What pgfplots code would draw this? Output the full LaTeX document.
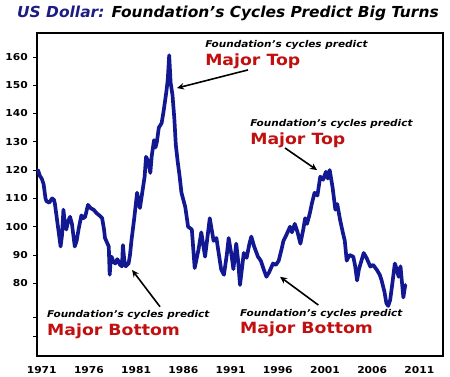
\documentclass[border=0pt]{standalone}
\usepackage{pgfplots}
\pgfplotsset{compat=1.18}
\usepackage{fontspec}
\setmainfont{DejaVu Sans}[FakeStretch=1.12]
\newfontfamily\titlefont{DejaVu Sans}[FakeStretch=1.02]
\usetikzlibrary{arrows.meta}
\definecolor{linecol}{RGB}{18,24,145}
\definecolor{titleblue}{RGB}{28,28,130}
\definecolor{majred}{RGB}{192,16,16}
\pgfplotstableread{
year value
1970.6 120
1970.8 118
1971.0 117
1971.2 115
1971.4 110
1971.5 109
1971.8 108.5
1972.1 110
1972.3 109.5
1972.4 108
1972.6 103
1972.8 98
1973.0 93
1973.15 97
1973.3 106
1973.45 101
1973.6 99
1973.8 102
1974.0 103.5
1974.2 101
1974.5 93
1974.7 95
1974.9 99
1975.2 104
1975.4 103
1975.6 103.5
1975.9 107.7
1976.2 106.5
1976.5 106
1976.8 104.8
1977.1 104
1977.4 103
1977.6 99
1977.7 96
1977.9 94.5
1978.1 93
1978.2 83
1978.3 88
1978.4 89.4
1978.6 87.5
1978.8 87
1979.0 88.5
1979.1 88
1979.3 86.5
1979.5 86
1979.6 93.5
1979.75 88
1979.9 86
1980.2 87
1980.35 90
1980.5 95
1980.8 103
1981.1 112
1981.25 109
1981.4 106.6
1981.6 111
1981.9 117.7
1982.05 124.7
1982.3 123
1982.5 119
1982.65 125
1982.9 130.6
1983.05 128
1983.2 130
1983.4 135
1983.7 136.6
1983.9 140.6
1984.2 147.7
1984.35 152
1984.5 160.6
1984.65 151
1984.85 146.5
1985.05 138
1985.2 129
1985.4 123
1985.6 118
1985.8 112
1986.2 107
1986.5 100
1986.9 99
1987.2 85.4
1987.6 91.8
1987.9 98
1988.3 89.4
1988.8 103
1989.2 95
1989.5 96
1989.8 89.4
1990.0 85
1990.3 83
1990.6 90
1990.8 96
1991.1 90
1991.3 85
1991.6 94
1991.8 88
1992.0 79.4
1992.2 85
1992.4 90.7
1992.7 89
1993.0 94
1993.2 96.5
1993.5 93
1993.9 89.4
1994.2 88
1994.5 85
1994.8 82.3
1995.1 84
1995.5 87
1995.8 86.5
1996.1 88
1996.4 92
1996.6 95
1996.9 97
1997.3 100
1997.5 98
1997.8 101
1998.1 98
1998.4 94
1998.7 99
1998.9 103
1999.1 101
1999.4 104.8
1999.6 108
1999.9 112
2000.2 111
2000.5 117.7
2000.8 116.6
2001.1 119.4
2001.3 117
2001.5 120
2001.8 114
2002.1 106
2002.3 108
2002.6 102.4
2002.9 97.8
2003.1 95
2003.3 88
2003.6 90
2004.0 89.4
2004.2 86
2004.4 81
2004.6 85
2005.1 90.7
2005.4 89
2005.8 85.9
2006.1 86.5
2006.5 84.7
2006.8 83
2007.0 81
2007.3 77
2007.5 73
2007.7 72
2007.9 74
2008.1 79
2008.4 87
2008.6 85
2008.8 82.3
2009.0 86
2009.3 75
2009.5 79.4
}\dollar
\begin{document}
\begin{tikzpicture}
\useasboundingbox (0,0) rectangle (450bp,377bp);
\node[anchor=base west, inner sep=0pt, font=\titlefont\fontsize{15.2}{18}\selectfont\bfseries\itshape]
  at (17bp,359bp) {{\color{titleblue}US Dollar:} Foundation’s Cycles Predict Big Turns};
\begin{axis}[
  at={(37bp,21bp)}, anchor=south west,
  width=406bp, height=323bp, scale only axis,
  xmin=1970.5, xmax=2013.5, ymin=54.3, ymax=168.45,
  xtick={1971,1976,1981,1986,1991,1996,2001,2006,2011},
  xticklabels={1971,1976,1981,1986,1991,1996,2001,2006,2011},
  ytick={61.4,68.1,80,90,100,110,120,130,140,150,160},
  yticklabels={,,80,90,100,110,120,130,140,150,160},
  axis line style={line width=1.6pt},
  tick align=outside,
  ytick pos=left, xtick pos=bottom,
  major tick length=4bp,
  ytick style={black, line width=0.8pt},
  xtick style={draw=none},
  tick label style={font=\fontsize{9.6}{11}\selectfont\bfseries, inner sep=0pt},
  yticklabel style={xshift=-5bp},
  xticklabel style={yshift=-6bp},
  clip=false,
]
\addplot[color=linecol, line width=3.7pt, line join=round, line cap=round] table[x=year,y=value] {\dollar};
% annotations
\node[anchor=base west, inner sep=0pt, font=\fontsize{9.4}{11}\selectfont\bfseries\itshape] at (axis cs:1988.3,163.4) {Foundation’s cycles predict};
\node[anchor=base west, inner sep=0pt, text=majred, font=\fontsize{15.5}{18}\selectfont\bfseries] at (axis cs:1988.3,157.1) {Major Top};
\node[anchor=base west, inner sep=0pt, font=\fontsize{9.4}{11}\selectfont\bfseries\itshape] at (axis cs:1993.07,135.3) {Foundation’s cycles predict};
\node[anchor=base west, inner sep=0pt, text=majred, font=\fontsize{15.5}{18}\selectfont\bfseries] at (axis cs:1993.07,128.9) {Major Top};
\node[anchor=base west, inner sep=0pt, font=\fontsize{9.4}{11}\selectfont\bfseries\itshape] at (axis cs:1971.56,68.0) {Foundation’s cycles predict};
\node[anchor=base west, inner sep=0pt, text=majred, font=\fontsize{15.5}{18}\selectfont\bfseries] at (axis cs:1971.56,61.7) {Major Bottom};
\node[anchor=base west, inner sep=0pt, font=\fontsize{9.4}{11}\selectfont\bfseries\itshape] at (axis cs:1992.0,68.2) {Foundation’s cycles predict};
\node[anchor=base west, inner sep=0pt, text=majred, font=\fontsize{15.5}{18}\selectfont\bfseries] at (axis cs:1992.0,62.3) {Major Bottom};
\draw[line width=1.6pt, -{Stealth[length=7bp,width=6.5bp]}] (axis cs:1992.85,155.4) -- (axis cs:1985.33,149.0);
\draw[line width=1.6pt, -{Stealth[length=7bp,width=6.5bp]}] (axis cs:1996.77,127.8) -- (axis cs:2000.16,120.0);
\draw[line width=1.6pt, -{Stealth[length=7bp,width=6.5bp]}] (axis cs:1983.53,71.7) -- (axis cs:1980.57,84.7);
\draw[line width=1.6pt, -{Stealth[length=7bp,width=6.5bp]}] (axis cs:2000.3,72.3) -- (axis cs:1996.24,82.3);
\end{axis}
\end{tikzpicture}
\end{document}
